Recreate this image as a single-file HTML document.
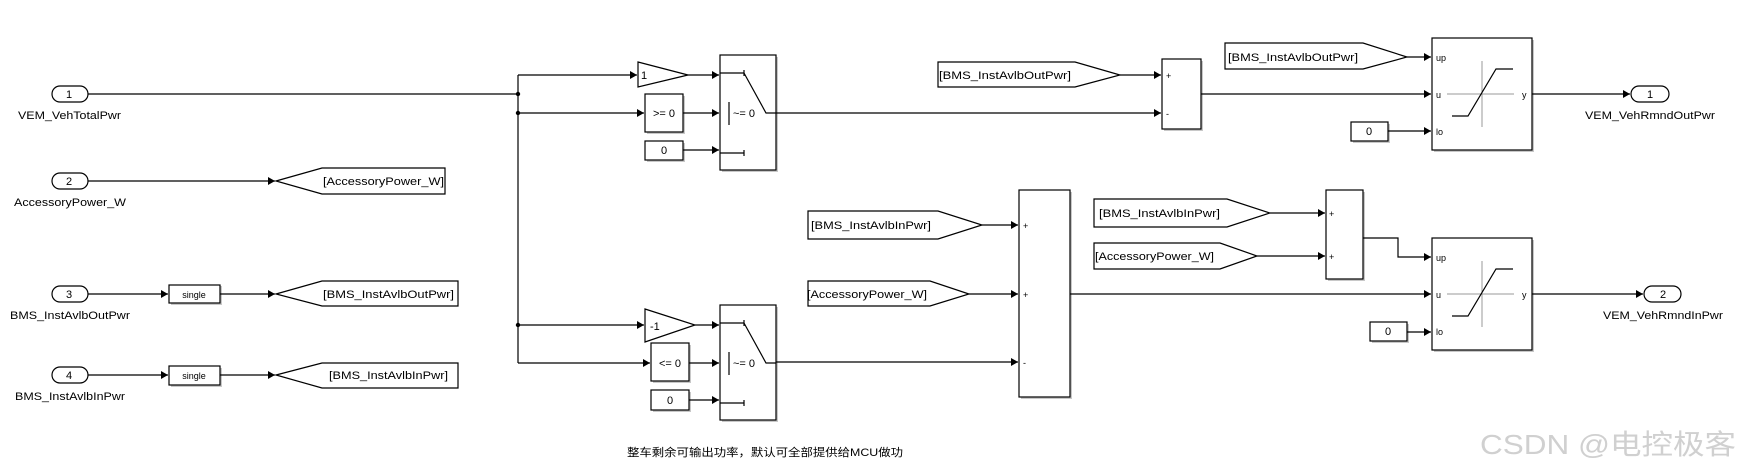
<!DOCTYPE html>
<html><head><meta charset="utf-8"><style>
html,body{margin:0;padding:0;background:#fff;}
svg{display:block;}
text{font-family:"Liberation Sans","Noto Sans CJK SC",sans-serif;fill:#000;}
</style></head><body>
<svg width="1741" height="470" viewBox="0 0 1741 470" xmlns="http://www.w3.org/2000/svg">
<defs>
<marker id="a" markerWidth="8" markerHeight="8" refX="7" refY="4" orient="auto" markerUnits="userSpaceOnUse">
<path d="M0,0 L7,4 L0,8 Z" fill="#000"/></marker>
</defs>
<g stroke="#000" stroke-width="1.2" fill="none">
<!-- shadows -->
<g fill="#c8c8c8" stroke="none">
<rect x="722" y="57" width="56" height="115"/>
<rect x="722" y="307" width="56" height="115"/>
<rect x="1164" y="61" width="39" height="70"/>
<rect x="1021" y="192" width="51" height="207"/>
<rect x="1328" y="192" width="37" height="89"/>
<rect x="1434" y="40" width="100" height="112"/>
<rect x="1434" y="240" width="100" height="112"/>
<rect x="647" y="96" width="38" height="38"/>
<rect x="647" y="143" width="38" height="19"/>
<rect x="653" y="345" width="38" height="38"/>
<rect x="653" y="392" width="38" height="20"/>
<rect x="1353" y="124" width="37" height="19"/>
<rect x="1372" y="324" width="37" height="19"/>
<rect x="171" y="286" width="51" height="19"/>
<rect x="171" y="368" width="51" height="19"/>
</g>
<!-- inports -->
<rect x="52" y="86" width="36" height="16" rx="8" fill="#fff"/>
<rect x="52" y="173" width="36" height="16" rx="8" fill="#fff"/>
<rect x="52" y="286" width="36" height="16" rx="8" fill="#fff"/>
<rect x="52" y="367" width="36" height="16" rx="8" fill="#fff"/>
<!-- outports -->
<rect x="1631" y="86" width="38" height="16" rx="8" fill="#fff"/>
<rect x="1644" y="286" width="37" height="16" rx="8" fill="#fff"/>
<!-- lines left -->
<path d="M88,94 H518"/>
<path d="M518,75 V363"/>
<path d="M518,75 H637" marker-end="url(#a)"/>
<path d="M518,113 H644" marker-end="url(#a)"/>
<path d="M518,325 H644" marker-end="url(#a)"/>
<path d="M518,363 H650" marker-end="url(#a)"/>
<path d="M88,181 H275" marker-end="url(#a)"/>
<path d="M88,294 H168" marker-end="url(#a)"/>
<path d="M220,294 H275" marker-end="url(#a)"/>
<path d="M88,375 H168" marker-end="url(#a)"/>
<path d="M220,375 H275" marker-end="url(#a)"/>
<!-- single boxes -->
<rect x="169" y="285" width="51" height="18" fill="#fff"/>
<rect x="169" y="366" width="51" height="19" fill="#fff"/>
<!-- gotos -->
<path d="M276,181 L322,168 H445 V194 H322 Z" fill="#fff"/>
<path d="M276,294 L322,281 H458 V306 H322 Z" fill="#fff"/>
<path d="M276,375 L322,363 H458 V388 H322 Z" fill="#fff"/>
<!-- switch 1 inputs -->
<path d="M638,62 L688,75 L638,87 Z" fill="#fff"/>
<rect x="645" y="94" width="38" height="38" fill="#fff"/>
<rect x="645" y="141" width="38" height="19" fill="#fff"/>
<path d="M688,75 H719" marker-end="url(#a)"/>
<path d="M683,113 H719" marker-end="url(#a)"/>
<path d="M683,150 H719" marker-end="url(#a)"/>
<rect x="720" y="55" width="56" height="115" fill="#fff"/>
<path d="M720,73 H744 M744,70 V76 M744,73 L766,113 H776 M729,102 V125 M720,153 H744 M744,150 V156"/>
<!-- switch 2 -->
<path d="M645,309 L695,325 L645,342 Z" fill="#fff"/>
<rect x="651" y="343" width="38" height="38" fill="#fff"/>
<rect x="651" y="390" width="38" height="20" fill="#fff"/>
<path d="M695,325 H719" marker-end="url(#a)"/>
<path d="M689,363 H719" marker-end="url(#a)"/>
<path d="M689,400 H719" marker-end="url(#a)"/>
<rect x="720" y="305" width="56" height="115" fill="#fff"/>
<path d="M720,323 H744 M744,320 V326 M744,323 L766,363 H776 M729,352 V375 M720,403 H744 M744,400 V406"/>
<!-- sum1 -->
<path d="M776,113 H1161" marker-end="url(#a)"/>
<path d="M938,62 H1075 L1120,75 L1075,87 H938 Z" fill="#fff"/>
<path d="M1120,75 H1161" marker-end="url(#a)"/>
<rect x="1162" y="59" width="39" height="70" fill="#fff"/>
<path d="M1201,94 H1431" marker-end="url(#a)"/>
<path d="M1225,43 H1363 L1407,57 L1363,69 H1225 Z" fill="#fff"/>
<path d="M1407,57 H1431" marker-end="url(#a)"/>
<rect x="1351" y="122" width="37" height="19" fill="#fff"/>
<path d="M1388,131 H1431" marker-end="url(#a)"/>
<rect x="1432" y="38" width="100" height="112" fill="#fff"/>
<path d="M1532,94 H1630" marker-end="url(#a)"/>
<!-- sum2 -->
<path d="M808,211 H938 L982,225 L938,239 H808 Z" fill="#fff"/>
<path d="M808,281 H930 L969,294 L930,306 H808 Z" fill="#fff"/>
<path d="M982,225 H1018" marker-end="url(#a)"/>
<path d="M969,294 H1018" marker-end="url(#a)"/>
<path d="M776,362 H1018" marker-end="url(#a)"/>
<rect x="1019" y="190" width="51" height="207" fill="#fff"/>
<path d="M1070,294 H1431" marker-end="url(#a)"/>
<path d="M1094,199 H1227 L1270,213 L1227,227 H1094 Z" fill="#fff"/>
<path d="M1094,243 H1220 L1257,256 L1220,269 H1094 Z" fill="#fff"/>
<path d="M1270,213 H1325" marker-end="url(#a)"/>
<path d="M1257,256 H1325" marker-end="url(#a)"/>
<rect x="1326" y="190" width="37" height="89" fill="#fff"/>
<path d="M1363,238 H1398 V257 H1431" marker-end="url(#a)"/>
<rect x="1370" y="322" width="37" height="19" fill="#fff"/>
<path d="M1407,332 H1431" marker-end="url(#a)"/>
<rect x="1432" y="238" width="100" height="112" fill="#fff"/>
<path d="M1532,294 H1643" marker-end="url(#a)"/>
</g>
<!-- junction dots -->
<g fill="#000"><circle cx="518" cy="94" r="2.2"/><circle cx="518" cy="113" r="2.2"/><circle cx="518" cy="325" r="2.2"/></g>
<!-- saturation graphics -->
<g stroke="#999" stroke-width="1" fill="none">
<path d="M1482,61 V127 M1447,94 H1514"/>
<path d="M1482,261 V327 M1447,294 H1514"/>
</g>
<g stroke="#000" stroke-width="1.2" fill="none">
<path d="M1452,116 H1468 L1496,69 H1513"/>
<path d="M1452,316 H1468 L1496,269 H1513"/>
</g>
<!-- texts -->
<g font-size="11">
<text x="69" y="98" text-anchor="middle">1</text>
<text x="69" y="185" text-anchor="middle">2</text>
<text x="69" y="298" text-anchor="middle">3</text>
<text x="69" y="379" text-anchor="middle">4</text>
<text x="1650" y="98" text-anchor="middle">1</text>
<text x="1663" y="298" text-anchor="middle">2</text>
<text x="18" y="119" textLength="103" lengthAdjust="spacingAndGlyphs">VEM_VehTotalPwr</text>
<text x="14" y="206" textLength="112" lengthAdjust="spacingAndGlyphs">AccessoryPower_W</text>
<text x="10" y="319" textLength="120" lengthAdjust="spacingAndGlyphs">BMS_InstAvlbOutPwr</text>
<text x="15" y="400" textLength="110" lengthAdjust="spacingAndGlyphs">BMS_InstAvlbInPwr</text>
<text x="1585" y="119" textLength="130" lengthAdjust="spacingAndGlyphs">VEM_VehRmndOutPwr</text>
<text x="1603" y="319" textLength="120" lengthAdjust="spacingAndGlyphs">VEM_VehRmndInPwr</text>
<text x="323" y="185" textLength="121" lengthAdjust="spacingAndGlyphs">[AccessoryPower_W]</text>
<text x="323" y="298" textLength="131" lengthAdjust="spacingAndGlyphs">[BMS_InstAvlbOutPwr]</text>
<text x="329" y="379" textLength="119" lengthAdjust="spacingAndGlyphs">[BMS_InstAvlbInPwr]</text>
<text x="939" y="79" textLength="132" lengthAdjust="spacingAndGlyphs">[BMS_InstAvlbOutPwr]</text>
<text x="1228" y="61" textLength="130" lengthAdjust="spacingAndGlyphs">[BMS_InstAvlbOutPwr]</text>
<text x="811" y="229" textLength="120" lengthAdjust="spacingAndGlyphs">[BMS_InstAvlbInPwr]</text>
<text x="807" y="298" textLength="120" lengthAdjust="spacingAndGlyphs">[AccessoryPower_W]</text>
<text x="1099" y="217" textLength="121" lengthAdjust="spacingAndGlyphs">[BMS_InstAvlbInPwr]</text>
<text x="1095" y="260" textLength="119" lengthAdjust="spacingAndGlyphs">[AccessoryPower_W]</text>
<text x="641" y="79">1</text>
<text x="650" y="330">-1</text>
<text x="664" y="117" text-anchor="middle">&gt;= 0</text>
<text x="664" y="154" text-anchor="middle">0</text>
<text x="670" y="367" text-anchor="middle">&lt;= 0</text>
<text x="670" y="404" text-anchor="middle">0</text>
<text x="1369" y="135" text-anchor="middle">0</text>
<text x="1388" y="335" text-anchor="middle">0</text>
<text x="733" y="117">~= 0</text>
<text x="733" y="367">~= 0</text>
<text x="1436" y="61" font-size="9">up</text>
<text x="1436" y="98" font-size="9">u</text>
<text x="1436" y="135" font-size="9">lo</text>
<text x="1436" y="261" font-size="9">up</text>
<text x="1436" y="298" font-size="9">u</text>
<text x="1436" y="335" font-size="9">lo</text>
<text x="1522" y="98" font-size="9">y</text>
<text x="1522" y="298" font-size="9">y</text>
<text x="1166" y="79" font-size="9">+</text>
<text x="1166" y="117" font-size="9">-</text>
<text x="1023" y="229" font-size="9">+</text>
<text x="1023" y="298" font-size="9">+</text>
<text x="1023" y="366" font-size="9">-</text>
<text x="1329" y="217" font-size="9">+</text>
<text x="1329" y="260" font-size="9">+</text>
<text x="194" y="298" font-size="9" text-anchor="middle">single</text>
<text x="194" y="379" font-size="9" text-anchor="middle">single</text>
<text x="627" y="456" font-size="11" textLength="276" lengthAdjust="spacingAndGlyphs">整车剩余可输出功率，默认可全部提供给MCU做功</text>
</g>
<text x="1480" y="454" font-size="28" fill="#d0d0d0" style="fill:#d0d0d0" textLength="256" lengthAdjust="spacingAndGlyphs">CSDN @电控极客</text>
</svg>
</body></html>
